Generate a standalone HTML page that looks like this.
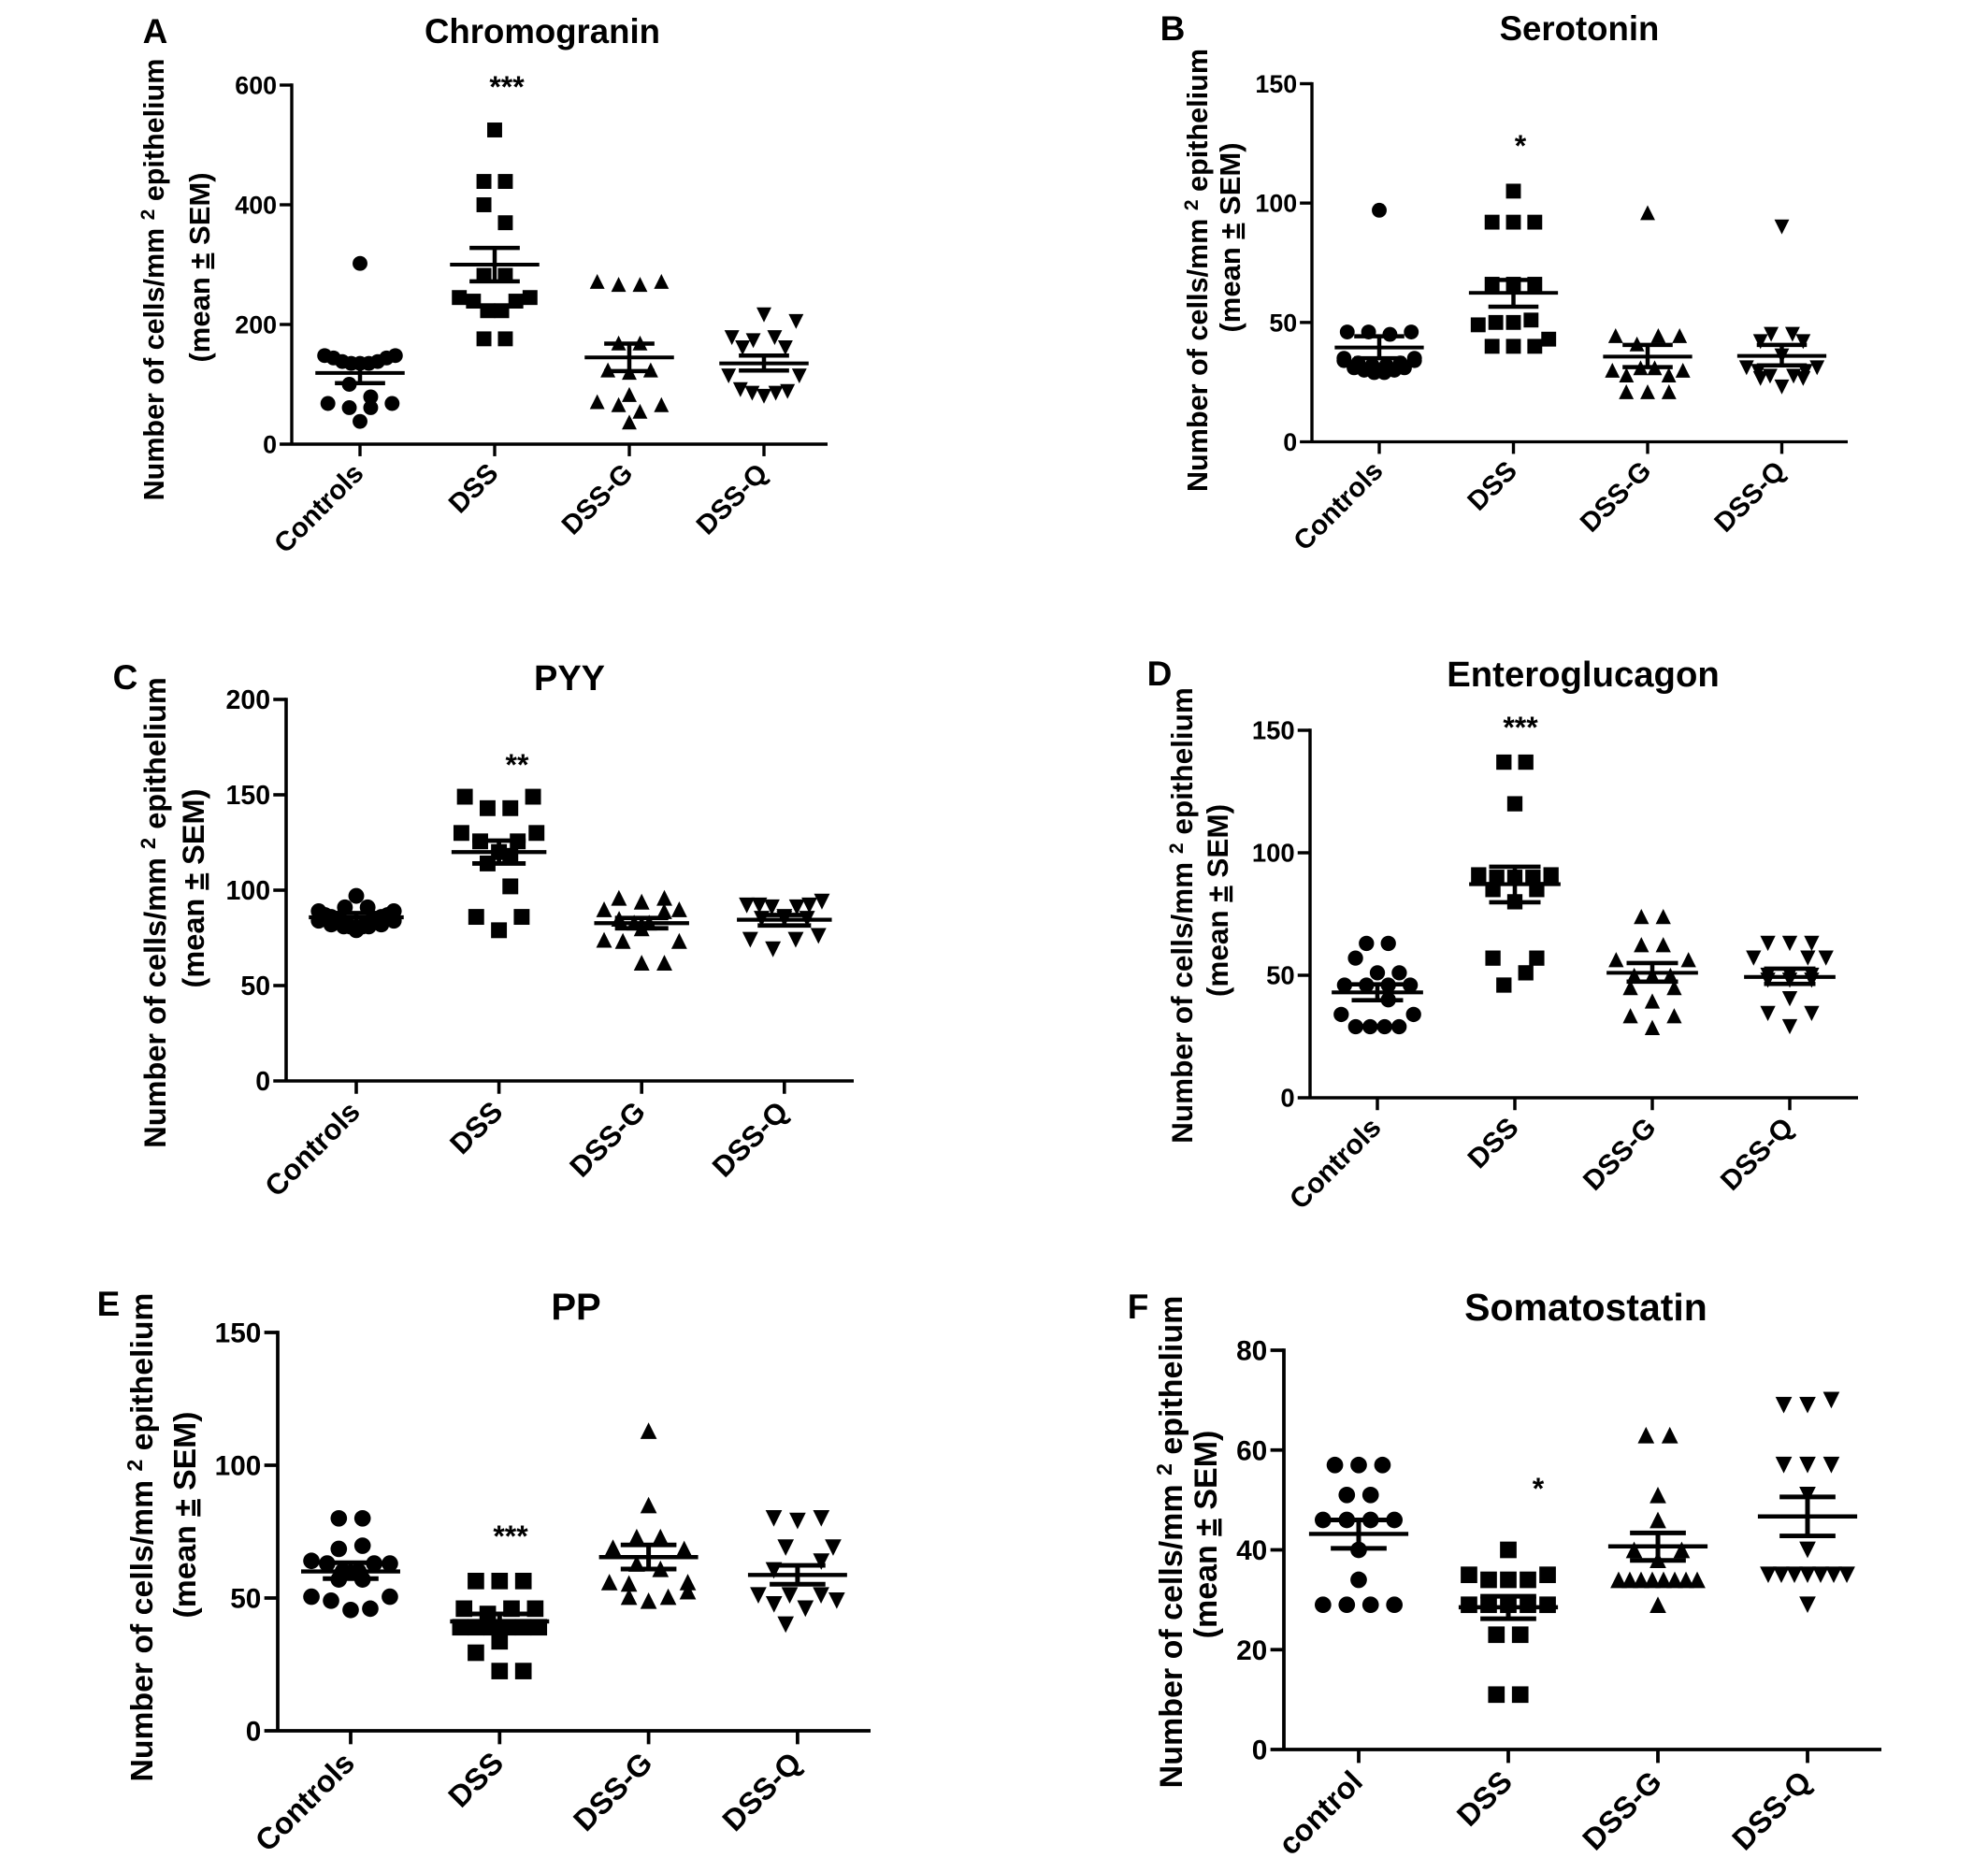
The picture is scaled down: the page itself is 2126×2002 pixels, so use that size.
<!DOCTYPE html>
<html lang="en">
<head>
<meta charset="utf-8">
<title>Endocrine cell densities</title>
<style>
html,body{margin:0;padding:0;background:#fff}
svg{display:block}
text{font-family:"Liberation Sans",sans-serif;font-weight:bold;fill:#000}
</style>
</head>
<body>
<svg id="fig" xmlns="http://www.w3.org/2000/svg" width="2126" height="2002" viewBox="0 0 2126 2002">
<rect width="2126" height="2002" fill="#fff"/>

<text x="166" y="46" font-size="37" text-anchor="middle">A</text>
<text x="580" y="46" font-size="36.6" text-anchor="middle">Chromogranin</text>
<text transform="translate(175,299) rotate(-90)" font-size="30.5" text-anchor="middle">Number of cells/mm <tspan font-size="21" dy="-10">2</tspan><tspan dy="10"> epithelium</tspan></text>
<text transform="translate(224,286) rotate(-90)" font-size="31" text-anchor="middle">(mean <tspan text-decoration="underline">±</tspan> SEM)</text>
<text x="542" y="104" font-size="32" text-anchor="middle">***</text>

<text x="1254" y="43" font-size="37" text-anchor="middle">B</text>
<text x="1689" y="43" font-size="36.6" text-anchor="middle">Serotonin</text>
<text transform="translate(1291,289) rotate(-90)" font-size="30.6" text-anchor="middle">Number of cells/mm <tspan font-size="21" dy="-10">2</tspan><tspan dy="10"> epithelium</tspan></text>
<text transform="translate(1326,254) rotate(-90)" font-size="31" text-anchor="middle">(mean <tspan text-decoration="underline">±</tspan> SEM)</text>
<text x="1626" y="167" font-size="32" text-anchor="middle">*</text>

<text x="134" y="737" font-size="37" text-anchor="middle">C</text>
<text x="609" y="738" font-size="38" text-anchor="middle">PYY</text>
<text transform="translate(177,976) rotate(-90)" font-size="32.5" text-anchor="middle">Number of cells/mm <tspan font-size="22" dy="-11">2</tspan><tspan dy="11"> epithelium</tspan></text>
<text transform="translate(218,950) rotate(-90)" font-size="32.5" text-anchor="middle">(mean <tspan text-decoration="underline">±</tspan> SEM)</text>
<text x="553" y="829" font-size="32" text-anchor="middle">**</text>

<text x="1240" y="733" font-size="37" text-anchor="middle">D</text>
<text x="1693" y="734" font-size="38.3" text-anchor="middle">Enteroglucagon</text>
<text transform="translate(1275,979) rotate(-90)" font-size="31.5" text-anchor="middle">Number of cells/mm <tspan font-size="21" dy="-10">2</tspan><tspan dy="10"> epithelium</tspan></text>
<text transform="translate(1313,963) rotate(-90)" font-size="31.5" text-anchor="middle">(mean <tspan text-decoration="underline">±</tspan> SEM)</text>
<text x="1626" y="789" font-size="32" text-anchor="middle">***</text>

<text x="116" y="1407" font-size="37" text-anchor="middle">E</text>
<text x="616" y="1411" font-size="40" text-anchor="middle">PP</text>
<text transform="translate(163,1644) rotate(-90)" font-size="33.75" text-anchor="middle">Number of cells/mm <tspan font-size="23" dy="-11">2</tspan><tspan dy="11"> epithelium</tspan></text>
<text transform="translate(209,1620) rotate(-90)" font-size="33.75" text-anchor="middle">(mean <tspan text-decoration="underline">±</tspan> SEM)</text>
<text x="546" y="1654" font-size="32" text-anchor="middle">***</text>

<text x="1217" y="1410" font-size="37" text-anchor="middle">F</text>
<text x="1696" y="1412" font-size="41" text-anchor="middle">Somatostatin</text>
<text transform="translate(1264,1649) rotate(-90)" font-size="34" text-anchor="middle">Number of cells/mm <tspan font-size="23" dy="-11">2</tspan><tspan dy="11"> epithelium</tspan></text>
<text transform="translate(1301,1641) rotate(-90)" font-size="34" text-anchor="middle">(mean <tspan text-decoration="underline">±</tspan> SEM)</text>
<text x="1645" y="1603" font-size="32" text-anchor="middle">*</text>
</svg>

<script>
// Shared category labels
const categoriesMain = ['Controls', 'DSS', 'DSS-G', 'DSS-Q'];
const categoriesF = ['control', 'DSS', 'DSS-G', 'DSS-Q'];

// Tick labels
const ticksA = [0, 200, 400, 600];
const ticksB = [0, 50, 100, 150];
const ticksC = [0, 50, 100, 150, 200];
const ticksD = [0, 50, 100, 150];
const ticksE = [0, 50, 100, 150];
const ticksF = [0, 20, 40, 60, 80];

// Values per group, as swarm rows read left to right (null = empty slot in the row)
// Panel A: Chromogranin
const controlsA = [[302], [148, 144, 138, 135, 135, 135, 138, 144, 148], [100, 79], [68, 61, 61, 68], [38]];
const dssA = [[525], [439, 439], [400, 370], [282, 282], [245, 239, 223, 223, 239, 245], [176, 176]];
const dssGA = [[272, 267, 267, 272], [169, 169], [124, 120, 124], [83], [71, 66, 55, 66], [37]];
const dssQA = [[216], [178, 173, 178, 205], [161, null, 161], [114, 91, 85, 80, 85, 88, 114]];
const meansA = [119, 300, 145, 135];
const lowA = [102, 272, 122, 123];
const highA = [136, 328, 168, 148];

// Panel B: Serotonin
const controlsB = [[97], [46, 46, 45, 46], [34, 31, 30, 29, 29, 30, 31, 34], [35, 33, 32, 32, 33, 35]];
const dssB = [[105], [92, 92, 92], [66, 66, 66], [49, 50, 50, 51, 43], [40, 40, 40]];
const dssGB = [[96], [44.5, 41, 44.5, 44.5], [30, 28, 31, 31, 28, 30], [21, 21, 21]];
const dssQB = [[90], [45, 45], [42, null, 42], [36], [31, 29.5, 27.5, 23, 27.5, 29.5, 31], [26.5, null, 26.5]];
const meansB = [39.5, 62.4, 35.7, 36];
const lowB = [35, 56.6, 31.3, 32];
const highB = [44.2, 67.8, 40.6, 40.6];

// Panel C: PYY
const controlsC = [[97], [91, 91], [89, 87, 86, 85, 83, 81, 79, 81, 83, 85, 86, 87, 89], [84, 82, 81, 80, 81, 82, 84]];
const dssC = [[149, null, null, 149], [143, 143], [130, 125.6, 120, 125.6, 130], [114, 118], [null, 102], [86, null, 86], [79]];
const dssGC = [[96, 94, 96], [90, 85, 83, 83, 89, 90], [74, 73.4, 80, null, 73.4], [null, 62, 62]];
const dssQC = [[92, 92, 91, 86, 91, 92, 94], [85, 85, 85], [74, 69, 74, 76]];
const meansC = [85.8, 120, 82.7, 84.5];
const lowC = [83.5, 114, 80, 81.5];
const highC = [88, 126, 85.4, 87];

// Panel D: Enteroglucagon
const controlsD = [[63, 63], [57, null, null], [null, 51, 51], [46, 46, 46, 46], [null, 40], [34, 29, 29, 29, 29, 34]];
const dssD = [[137, 137], [120], [91, 90, 90, 90, 91], [85, null, 85], [80], [57, null, 57], [null, 51], [46, null]];
const dssGD = [[74, 74], [62.5, 62.5], [56.4, 50, 50, 50, 56.4], [45, null, 45], [39.5], [33.5, null, 33.5], [28.7]];
const dssQD = [[63, 63, 63], [57, null, null, 57, 57], [50, 50, 50], [48, 48, 48], [40.4], [34.4, null, 34.4], [29]];
const meansD = [43, 87.2, 51, 49.3];
const lowD = [39.8, 79.8, 47.4, 46.5];
const highD = [46.3, 94.3, 55, 52.7];

// Panel E: PP
const controlsE = [[80, 80], [68.5, 69.7], [64, 63, 60, 60, 63, 63], [57, 57], [50.5, 49, 45.5, 46, 50.5]];
const dssE = [[56.4, 56.4, 56.4], [46, 44, 46, 46], [39, 39, 39, 39, 39, 39], [29.4, 33.7, null], [null, 22.5, 22.5]];
const dssGE = [[113], [85], [73, 73], [69, null, null, 68.5], [63, 61], [56, 55.5, null, null, 56], [null, 50.5, 49, 50.5, 52.6]];
const dssQE = [[80, 79, 80], [null, 69, null, 69], [60.4, null, 63.7], [51, 47.6, 51, 46, 51, 49], [40, null]];
const meansE = [60, 41.2, 65.4, 58.7];
const lowE = [57.3, 38.4, 60.9, 55.2];
const highE = [63.3, 44, 70, 62.3];

// Panel F: Somatostatin
const controlsF = [[57, 57, 57], [51, 51], [46, 46, 46, 46], [40], [34], [29, 29, 29, 29]];
const dssF = [[40], [35, 34, 34, 34, 35], [29, 29, 29, 29, 29], [23, 23], [11, 11]];
const dssGF = [[63, 63], [51], [46], [40, 38, 40], [34, 34, 34, 34, 34, 34, 34, 34], [29]];
const dssQF = [[69, 69, 70], [57, 57, 57], [51], [40], [35, 35, 35, 35, 35, 35, 35], [29]];
const meansF = [43.2, 28.5, 40.7, 46.7];
const lowF = [40.3, 26.2, 37.9, 42.8];
const highF = [46, 30.7, 43.4, 50.6];

const SVG_NS = 'http://www.w3.org/2000/svg';
const fig = document.getElementById('fig');

const panels = [
  { id: 'a', left: 312, top: 91, zero: 475, right: 885, first: 385, step: 144, max: 600, ticks: ticksA, cats: categoriesMain, groups: [controlsA, dssA, dssGA, dssQA], means: meansA, low: lowA, high: highA },
  { id: 'b', left: 1403, top: 89.5, zero: 472.5, right: 1976, first: 1475, step: 143.5, max: 150, ticks: ticksB, cats: categoriesMain, groups: [controlsB, dssB, dssGB, dssQB], means: meansB, low: lowB, high: highB },
  { id: 'c', left: 306, top: 748, zero: 1156, right: 913, first: 381, step: 152.6, max: 200, ticks: ticksC, cats: categoriesMain, groups: [controlsC, dssC, dssGC, dssQC], means: meansC, low: lowC, high: highC },
  { id: 'd', left: 1401, top: 781, zero: 1174, right: 1987, first: 1473, step: 147, max: 150, ticks: ticksD, cats: categoriesMain, groups: [controlsD, dssD, dssGD, dssQD], means: meansD, low: lowD, high: highD },
  { id: 'e', left: 297, top: 1425, zero: 1851, right: 931, first: 375, step: 159.3, max: 150, ticks: ticksE, cats: categoriesMain, groups: [controlsE, dssE, dssGE, dssQE], means: meansE, low: lowE, high: highE },
  { id: 'f', left: 1373, top: 1444, zero: 1871, right: 2012, first: 1453, step: 160, max: 80, ticks: ticksF, cats: categoriesF, groups: [controlsF, dssF, dssGF, dssQF], means: meansF, low: lowF, high: highF }
];

const groupNames = ['controls', 'dss', 'dss-g', 'dss-q'];

function line(parent, x1, y1, x2, y2, width, name) {
  const el = document.createElementNS(SVG_NS, 'line');
  el.setAttribute('x1', x1);
  el.setAttribute('y1', y1);
  el.setAttribute('x2', x2);
  el.setAttribute('y2', y2);
  el.setAttribute('stroke', '#000');
  el.setAttribute('stroke-width', width);
  
  
  parent.appendChild(el);
}

function marker(parent, kind, cx, cy, s, name) {
  let el;
  if (kind === 0) {
    el = document.createElementNS(SVG_NS, 'circle');
    el.setAttribute('cx', cx);
    el.setAttribute('cy', cy);
    el.setAttribute('r', 8 * s);
  } else if (kind === 1) {
    el = document.createElementNS(SVG_NS, 'rect');
    el.setAttribute('x', cx - 8 * s);
    el.setAttribute('y', cy - 8 * s);
    el.setAttribute('width', 16 * s);
    el.setAttribute('height', 16 * s);
  } else {
    const dir = kind === 2 ? 1 : -1;
    const h = 8 * s;
    el = document.createElementNS(SVG_NS, 'polygon');
    el.setAttribute('points', [cx, cy - dir * h, cx + h, cy + dir * h, cx - h, cy + dir * h].join(' '));
  }
  el.setAttribute('fill', '#000');
  
  
  parent.appendChild(el);
}

function drawPanel(p) {
  const s = (p.zero - p.top) / 386;
  const y = v => p.zero - (v / p.max) * (p.zero - p.top);
  const x = i => p.first + i * p.step;
  const gap = n => (n <= 4 ? 23 * s : 76 * s / (n - 1));
  const axisW = 3.4 * s;
  const tickLen = 13 * s;

  const g = document.createElementNS(SVG_NS, 'g');
  
  
  fig.appendChild(g);

  line(g, p.left, p.top - axisW / 2, p.left, p.zero, axisW, 'y-axis');
  line(g, p.left - tickLen, p.zero, p.right, p.zero, axisW, 'x-axis');

  p.ticks.forEach(t => {
    if (t !== 0) line(g, p.left - tickLen, y(t), p.left, y(t), axisW, 'y-tick');
    const label = document.createElementNS(SVG_NS, 'text');
    label.setAttribute('x', p.left - tickLen - 3 * s);
    label.setAttribute('y', y(t) + 9.5 * s);
    label.setAttribute('text-anchor', 'end');
    label.setAttribute('font-size', 27 * s);
    
    
    label.textContent = t;
    g.appendChild(label);
  });

  p.cats.forEach((c, i) => {
    line(g, x(i), p.zero, x(i), p.zero + tickLen, axisW, 'x-tick');
    const label = document.createElementNS(SVG_NS, 'text');
    const ax = x(i) + 5.5 * s;
    const ay = p.zero + 33 * s;
    label.setAttribute('transform', 'translate(' + ax + ',' + ay + ') rotate(-45)');
    label.setAttribute('text-anchor', 'end');
    label.setAttribute('font-size', 29.5 * s);
    
    
    label.textContent = c;
    g.appendChild(label);
  });

  p.groups.forEach((rows, gi) => {
    const cx = x(gi);
    rows.forEach(row => {
      const n = row.length;
      row.forEach((v, k) => {
        if (v === null) return;
        marker(g, gi, cx + (k - (n - 1) / 2) * gap(n), y(v), s, 'point-' + groupNames[gi]);
      });
    });
    const meanHalf = 48 * s;
    const capHalf = 27 * s;
    line(g, cx - meanHalf, y(p.means[gi]), cx + meanHalf, y(p.means[gi]), 4 * s, 'mean-line-' + groupNames[gi]);
    line(g, cx, y(p.low[gi]), cx, y(p.high[gi]), 4.5 * s, 'error-bar-' + groupNames[gi]);
    line(g, cx - capHalf, y(p.high[gi]), cx + capHalf, y(p.high[gi]), 4.5 * s, 'error-cap-upper-' + groupNames[gi]);
    line(g, cx - capHalf, y(p.low[gi]), cx + capHalf, y(p.low[gi]), 4.5 * s, 'error-cap-lower-' + groupNames[gi]);
  });
}

panels.forEach(drawPanel);
</script>
</body>
</html>
